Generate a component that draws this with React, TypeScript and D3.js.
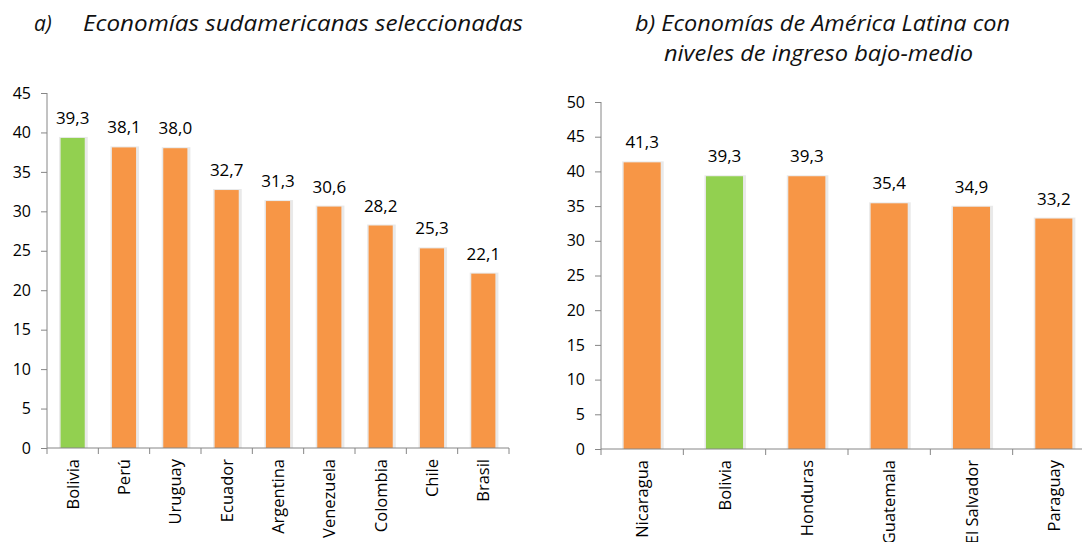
import React, { useRef, useEffect } from 'react';
import * as d3 from 'd3';

// a) Economías sudamericanas seleccionadas
const southCountries = ['Bolivia', 'Perú', 'Uruguay', 'Ecuador', 'Argentina', 'Venezuela', 'Colombia', 'Chile', 'Brasil'];
const southValues = [39.3, 38.1, 38.0, 32.7, 31.3, 30.6, 28.2, 25.3, 22.1];
const southTicks = [0, 5, 10, 15, 20, 25, 30, 35, 40, 45];

// b) Economías de América Latina con niveles de ingreso bajo-medio
const lowMidCountries = ['Nicaragua', 'Bolivia', 'Honduras', 'Guatemala', 'El Salvador', 'Paraguay'];
const lowMidValues = [41.3, 39.3, 39.3, 35.4, 34.9, 33.2];
const lowMidTicks = [0, 5, 10, 15, 20, 25, 30, 35, 40, 45, 50];

const highlight = 'Bolivia';

const ORANGE = '#F79646';
const GREEN = '#92D050';
const AXIS = '#868686';
const FONT = '"Open Sans", Lato, sans-serif';

const fmt = (v: number) => d3.format('.1f')(v).replace('.', ',');

interface PanelOpts {
    categories: string[];
    values: number[];
    ticks: number[];
    x0: number;
    x1: number;
    yTop: number;
    yBottom: number;
    padding: number;
}

function drawPanel(svg: d3.Selection<SVGSVGElement, unknown, null, undefined>, o: PanelOpts) {
    const max = o.ticks[o.ticks.length - 1];
    const x = d3
        .scaleBand()
        .domain(o.categories)
        .range([o.x0, o.x1])
        .paddingInner(o.padding)
        .paddingOuter(o.padding / 2);
    const y = d3.scaleLinear().domain([0, max]).range([o.yBottom, o.yTop]);

    const data = o.categories.map((c, i) => ({ c, v: o.values[i] }));
    const g = svg.append('g');

    // soft shadow round the bars
    g.selectAll('.shadow')
        .data(data)
        .enter()
        .append('rect')
        .attr('x', d => x(d.c)! - 1.5)
        .attr('y', d => y(d.v) - 1)
        .attr('width', x.bandwidth() + 4.5)
        .attr('height', d => o.yBottom - y(d.v) + 1)
        .attr('fill', '#d4d4d4')
        .attr('opacity', 0.5);

    g.selectAll('.bar')
        .data(data)
        .enter()
        .append('rect')
        .attr('x', d => x(d.c)!)
        .attr('y', d => y(d.v))
        .attr('width', x.bandwidth())
        .attr('height', d => o.yBottom - y(d.v))
        .attr('fill', d => (d.c === highlight ? GREEN : ORANGE));

    // value labels
    g.selectAll('.val')
        .data(data)
        .enter()
        .append('text')
        .attr('x', d => x(d.c)! + x.bandwidth() / 2)
        .attr('y', d => y(d.v) - 14)
        .attr('text-anchor', 'middle')
        .style('font-family', FONT)
        .style('font-size', '17px')
        .attr('fill', '#000')
        .text(d => fmt(d.v));

    // y axis
    const yAxis = g
        .append('g')
        .attr('transform', `translate(${o.x0},0)`)
        .call(d3.axisLeft(y).tickValues(o.ticks).tickSize(6).tickPadding(10).tickFormat(d3.format('d')));
    yAxis.select('.domain').attr('stroke', AXIS).attr('d', `M0,${o.yTop}V${o.yBottom}`);
    yAxis.selectAll('.tick line').attr('stroke', AXIS);
    yAxis
        .selectAll('.tick text')
        .style('font-family', FONT)
        .style('font-size', '16px')
        .attr('fill', '#000');

    // x axis line + tick marks at band edges
    g.append('line')
        .attr('x1', o.x0)
        .attr('x2', o.x1)
        .attr('y1', o.yBottom)
        .attr('y2', o.yBottom)
        .attr('stroke', AXIS);
    const edges = o.categories.map(c => x(c)! - (x.step() * o.padding) / 2).concat([o.x1]);
    g.selectAll('.xt')
        .data(edges)
        .enter()
        .append('line')
        .attr('x1', d => d)
        .attr('x2', d => d)
        .attr('y1', o.yBottom)
        .attr('y2', o.yBottom + 6)
        .attr('stroke', AXIS);

    // category labels, rotated
    g.selectAll('.cat')
        .data(data)
        .enter()
        .append('text')
        .attr(
            'transform',
            d => `translate(${x(d.c)! + x.bandwidth() / 2 + 6},${o.yBottom + 11}) rotate(-90)`
        )
        .attr('text-anchor', 'end')
        .style('font-family', FONT)
        .style('font-size', '16.5px')
        .attr('fill', '#000')
        .text(d => d.c);
}

const App: React.FC = () => {
    const svgRef = useRef<SVGSVGElement | null>(null);

    useEffect(() => {
        const svg = d3.select(svgRef.current!);
        svg.selectAll('*').remove();

        drawPanel(svg, {
            categories: southCountries,
            values: southValues,
            ticks: southTicks,
            x0: 47,
            x1: 509,
            yTop: 93,
            yBottom: 448,
            padding: 0.53,
        });

        drawPanel(svg, {
            categories: lowMidCountries,
            values: lowMidValues,
            ticks: lowMidTicks,
            x0: 601,
            x1: 1095,
            yTop: 102,
            yBottom: 449,
            padding: 0.55,
        });

        const title = (txt: string, x: number, y: number, len?: number) => {
            const t = svg
                .append('text')
                .attr('x', x)
                .attr('y', y)
                .style('font-family', FONT)
                .style('font-style', 'italic')
                .style('font-size', '21px')
                .attr('fill', '#111')
                .text(txt);
            if (len) t.attr('textLength', len).attr('lengthAdjust', 'spacingAndGlyphs');
        };

        title('a)', 34, 31);
        title('Economías sudamericanas seleccionadas', 83, 31, 440);
        title('b) Economías de América Latina con', 635, 31, 375);
        title('niveles de ingreso bajo-medio', 664, 61, 309);
    }, []);

    return (
        <svg
            ref={svgRef}
            width={1082}
            height={542}
            style={{ position: 'absolute', left: 0, top: 0, background: '#fff', overflow: 'hidden' }}
        />
    );
};

export default App;
